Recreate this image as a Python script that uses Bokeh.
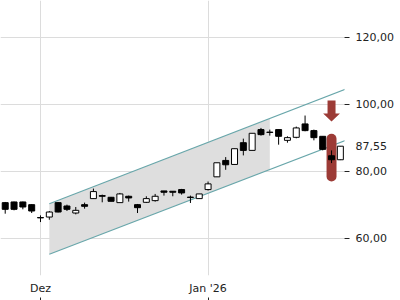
from bokeh.plotting import figure
from bokeh.models import FixedTicker, LinearAxis, ColumnDataSource
from bokeh.embed import file_html
from bokeh.resources import INLINE

# ---- data ----
dates = ["2025-11-25", "2025-11-26", "2025-11-27", "2025-11-28",
         "2025-12-01", "2025-12-02", "2025-12-03", "2025-12-04", "2025-12-05",
         "2025-12-08", "2025-12-09", "2025-12-10", "2025-12-11", "2025-12-12",
         "2025-12-15", "2025-12-16", "2025-12-17", "2025-12-18", "2025-12-19",
         "2025-12-22", "2025-12-23", "2025-12-29", "2025-12-30",
         "2026-01-02", "2026-01-05", "2026-01-06", "2026-01-07", "2026-01-08",
         "2026-01-09", "2026-01-12", "2026-01-13", "2026-01-14", "2026-01-15",
         "2026-01-16", "2026-01-19", "2026-01-20", "2026-01-21", "2026-01-22",
         "2026-01-23"]
opens  = [70.7, 70.9, 70.9, 70.1, 66.25, 66.4, 70.7, 69.7, 67.6, 70.1, 71.9, 72.8, 72.3, 70.7,
          72.6, 70.1, 70.8, 71.3, 74.2, 74.1, 74.6, 72.35, 71.9,
          74.6, 78.4, 83.3, 82.1, 88.6, 86.3, 92.5, 91.75, 92.5, 89.3, 90.2, 94.2, 92.2, 90.5, 84.7, 83.5]
highs  = [70.9, 71.0, 71.0, 70.2, 66.9, 68.2, 70.8, 70.1, 69.4, 70.7, 74.9, 73.1, 72.4, 73.6,
          72.8, 70.3, 72.6, 73.3, 74.2, 74.1, 74.8, 72.8, 73.3,
          77.0, 82.6, 84.3, 86.8, 89.8, 91.4, 93.0, 92.5, 92.5, 90.5, 93.4, 96.7, 92.5, 90.5, 86.3, 87.6]
lows   = [67.4, 68.4, 68.7, 67.6, 64.9, 65.6, 67.8, 68.2, 67.2, 68.9, 71.9, 70.8, 71.1, 70.7,
          71.0, 67.6, 70.6, 71.0, 72.8, 72.6, 73.1, 70.6, 71.9,
          74.3, 78.4, 80.5, 82.1, 84.8, 86.3, 90.7, 90.7, 88.0, 88.6, 89.9, 92.0, 89.3, 86.3, 82.5, 83.4]
closes = [68.7, 68.7, 69.4, 68.2, 66.15, 67.9, 67.9, 68.7, 68.4, 69.6, 74.0, 72.6, 71.1, 73.3,
          72.1, 69.2, 71.9, 72.6, 73.8, 73.8, 73.6, 72.25, 73.3,
          76.3, 82.6, 82.0, 86.8, 86.3, 91.4, 91.0, 91.65, 90.5, 90.1, 93.0, 92.2, 90.1, 86.6, 83.5, 87.55]

month_labels = ["Dez", "Jan '26"]
y_ticks = [60, 80, 100, 120]
last_price = 87.55

# trend channel (start index, end index, values)
channel_idx = [5, 39]
channel_upper = [70.4, 105.0]
channel_lower = [55.3, 89.7]
shade_end_idx = 30

# signal marker
signal_idx = 37
signal_bar = [77.0, 91.25]        # bottom, top of rounded bar
arrow_vals = [101.2, 97.3, 94.9]  # shaft top, head base, tip

# ---- derived ----
x = list(range(len(dates)))
month_starts = [i for i in x if i > 0 and dates[i][5:7] != dates[i - 1][5:7]]

up = [c >= o for o, c in zip(opens, closes)]
src_up = ColumnDataSource(dict(x=[i for i in x if up[i]],
                               top=[closes[i] for i in x if up[i]],
                               bottom=[opens[i] for i in x if up[i]]))
src_dn = ColumnDataSource(dict(x=[i for i in x if not up[i]],
                               top=[opens[i] for i in x if not up[i]],
                               bottom=[closes[i] for i in x if not up[i]]))

p = figure(frame_width=344, frame_height=275, output_backend="svg", toolbar_location=None,
           x_range=(-0.535, 38.47), y_range=(48.95, 131.04), y_axis_location="right",
           min_border=0, min_border_right=0, min_border_bottom=0, outline_line_color=None,
           background_fill_color="white", border_fill_color="white")

# grid
p.xgrid.ticker = FixedTicker(ticks=month_starts)
p.ygrid.ticker = FixedTicker(ticks=y_ticks)
p.grid.grid_line_color = "#dcdcdc"
p.grid.grid_line_width = 1

# channel shading
def ch_at(vals, i):
    return vals[0] + (vals[1] - vals[0]) * (i - channel_idx[0]) / (channel_idx[1] - channel_idx[0])

sx = [channel_idx[0], shade_end_idx, shade_end_idx, channel_idx[0]]
sy = [channel_upper[0], ch_at(channel_upper, shade_end_idx),
      ch_at(channel_lower, shade_end_idx), channel_lower[0]]
p.patch(sx, sy, fill_color="#dedede", line_color=None)
p.line(channel_idx, channel_upper, line_color="#68a6aa", line_width=1.1)
p.line(channel_idx, channel_lower, line_color="#68a6aa", line_width=1.1)

# signal bar
red = "#9c3b36"
p.vbar(x=[signal_idx], bottom=[signal_bar[0]], top=[signal_bar[1]], width=1.13,
       fill_color=red, line_color=None, border_radius=5)

# arrow
s_hw = 4 / 8.82
h_hw = 8.4 / 8.82
ax = [signal_idx - s_hw, signal_idx + s_hw, signal_idx + s_hw, signal_idx + h_hw,
      signal_idx, signal_idx - h_hw, signal_idx - s_hw]
ay = [arrow_vals[0], arrow_vals[0], arrow_vals[1], arrow_vals[1],
      arrow_vals[2], arrow_vals[1], arrow_vals[1]]
p.patch(ax, ay, fill_color=red, line_color=None)

# candles
p.segment(x0=x, y0=lows, x1=x, y1=highs, line_color="black", line_width=1)
p.vbar(x="x", top="top", bottom="bottom", width=0.68, source=src_up,
       fill_color="white", line_color="black", line_width=1)
p.vbar(x="x", top="top", bottom="bottom", width=0.68, source=src_dn,
       fill_color="black", line_color="black", line_width=1)

# axes
font = "DejaVu Sans"
# first right axis: tick dashes only
ya = p.yaxis[0]
ya.ticker = FixedTicker(ticks=y_ticks)
ya.major_label_overrides = {t: "" for t in y_ticks}
ya.major_label_text_font_size = "1px"
ya.major_label_standoff = 0
ya.axis_line_color = None
ya.major_tick_in = 0
ya.major_tick_out = 5
ya.minor_tick_line_color = None
ya.major_tick_line_color = "#222222"

# second right axis: labels (incl. last price) without dashes
label_ticks = y_ticks + [last_price]
ya2 = LinearAxis(ticker=FixedTicker(ticks=label_ticks),
                 major_label_overrides={t: f"{t:.2f}".replace(".", ",") for t in label_ticks},
                 axis_line_color=None, major_tick_in=0, major_tick_out=0,
                 minor_tick_line_color=None, major_label_standoff=6,
                 major_label_text_font=font, major_label_text_font_size="11px",
                 major_label_text_color="#222222")
p.add_layout(ya2, "right")

xa = p.xaxis[0]
xa.ticker = FixedTicker(ticks=month_starts)
xa.major_label_overrides = {i: lab for i, lab in zip(month_starts, month_labels)}
xa.axis_line_color = None
xa.major_tick_in = 0
xa.major_tick_out = 0
xa.minor_tick_line_color = None
xa.major_label_standoff = 6
xa.major_label_text_font = font
xa.major_label_text_font_size = "11px"
xa.major_label_text_color = "#222222"

xa2 = LinearAxis(ticker=FixedTicker(ticks=month_starts),
                 major_label_overrides={i: "" for i in month_starts},
                 axis_line_color=None, major_tick_in=0, major_tick_out=3,
                 minor_tick_line_color=None, major_tick_line_color="#222222",
                 major_label_text_font_size="1px", major_label_standoff=0)
p.add_layout(xa2, "below")

open("out.html", "w").write(file_html(p, INLINE))
